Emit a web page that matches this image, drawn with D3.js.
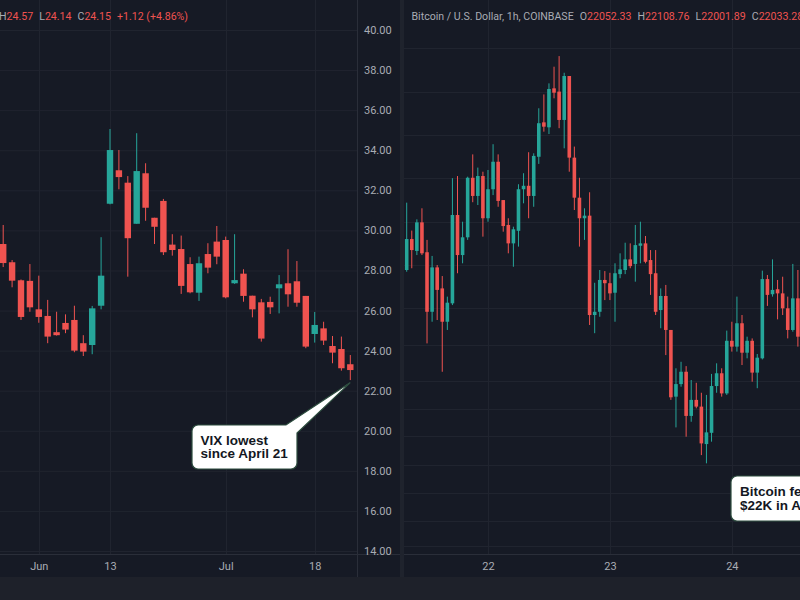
<!DOCTYPE html>
<html><head><meta charset="utf-8">
<script src="https://cdn.jsdelivr.net/npm/d3@7"></script>
<style>html,body{margin:0;padding:0;background:#161a25;overflow:hidden}text{font-family:Roboto,"Noto Sans",sans-serif}</style>
</head><body>
<svg id="c" width="800" height="600"></svg>
<script>
// ---------- VIX daily ----------
const vixDates = ["2022-05-25","2022-05-26","2022-05-27","2022-05-31","2022-06-01","2022-06-02","2022-06-03","2022-06-06","2022-06-07","2022-06-08",
"2022-06-09","2022-06-10","2022-06-13","2022-06-14","2022-06-15","2022-06-16","2022-06-17","2022-06-21","2022-06-22","2022-06-23",
"2022-06-24","2022-06-27","2022-06-28","2022-06-29","2022-06-30","2022-07-01","2022-07-05","2022-07-06","2022-07-07","2022-07-08",
"2022-07-11","2022-07-12","2022-07-13","2022-07-14","2022-07-15","2022-07-18","2022-07-19","2022-07-20","2022-07-21","2022-07-22"];
const vixOpen  = [29.32,28.41,27.51,27.48,26.06,25.73,24.92,25.38,25.53,24.37,24.28,26.24,31.33,33.00,32.38,30.33,32.85,30.63,31.47,29.29,29.07,28.32,26.89,28.82,29.44,29.52,27.36,27.84,26.74,26.41,26.43,27.11,27.36,27.46,26.73,24.83,25.11,24.23,24.08,23.32];
const vixHigh  = [30.27,28.52,27.55,28.32,27.74,26.53,25.94,25.81,26.24,24.77,26.23,29.66,35.06,34.01,32.71,34.85,33.35,30.63,31.57,29.81,29.74,28.66,28.69,29.36,30.22,29.69,29.81,28.06,26.74,26.58,26.69,27.77,29.06,28.47,26.73,25.93,25.44,24.73,24.70,23.78];
const vixLow   = [28.17,27.16,25.53,25.94,25.39,24.37,24.75,24.87,23.92,23.73,23.82,26.06,31.30,32.05,27.69,30.33,30.48,29.32,28.77,28.74,26.83,26.86,26.48,27.86,28.31,26.61,27.33,26.44,25.66,24.45,25.83,25.86,26.19,26.19,24.12,24.40,24.28,23.37,23.00,22.53];
const vixClose = [28.37,27.49,25.68,26.16,25.68,24.70,24.77,25.05,24.00,23.95,26.11,27.74,34.01,32.66,29.61,32.96,31.13,30.18,28.91,29.02,27.23,26.91,28.36,28.14,28.69,26.66,27.52,26.73,26.06,24.60,26.16,27.31,26.81,26.39,24.20,25.28,24.50,23.90,23.12,23.03];
const vixTicks = [14,16,18,20,22,24,26,28,30,32,34,36,38,40];
const vixTimeTicks = ["2022-06-01","2022-06-13","2022-07-01","2022-07-18"];
const vixTimeLabels = ["Jun","13","Jul","18"];
const vixHeader = [["H","24.57"],["L","24.14"],["C","24.15"]];
const vixChange = "+1.12 (+4.86%)";
const vixNote = ["VIX lowest","since April 21"];

// ---------- BTC hourly ----------
const btcStart = "2022-07-21T08:00:00", btcEnd = "2022-07-24T14:00:00";
const btcOpen  = [23376,23519,23464,23596,23458,23183,23388,23291,23137,23222,23630,23445,23527,23802,23718,23810,23615,23749,23876,23699,
23584,23499,23557,23749,23765,23718,23899,24058,24035,24215,24200,24069,24272,23895,23710,23615,23627,23168,23183,23330,
23315,23271,23357,23376,23425,23404,23488,23499,23422,23361,23191,23256,23099,22791,22849,22906,22702,22776,22745,22572,
22624,22840,22899,22806,23049,23022,23130,22994,23049,22902,22968,23334,23264,23287,23268,23199,23099,23245];
const btcHigh  = [23687,23558,23610,23661,23515,23441,23399,23348,23253,23800,23810,23599,23807,23910,23849,23830,23838,23957,23910,23699,
23615,23576,23772,23823,23920,23915,24123,24187,24238,24315,24364,24287,24272,23946,23802,23661,23735,23317,23376,23371,
23363,23407,23453,23502,23499,23584,23599,23533,23468,23468,23291,23307,23099,22922,22952,22932,22868,22855,22809,22799,
22896,22945,22922,23096,23137,23253,23168,23068,23060,22988,23373,23353,23425,23330,23345,23253,23404,23376];
const btcLow   = [23368,23384,23445,23445,23037,23137,23145,22906,23099,23214,23361,23407,23515,23689,23676,23530,23599,23722,23668,23553,
23453,23391,23484,23684,23615,23668,23866,24015,24004,24169,24031,23938,23830,23653,23484,23515,23122,23084,23160,23237,
23237,23137,23338,23357,23384,23322,23407,23407,23261,23168,23107,22983,22776,22649,22837,22606,22675,22737,22521,22483,
22583,22809,22791,22799,22999,22999,22937,22968,22860,22830,22963,23210,23253,23148,23168,23060,23091,23022];
const btcClose = [23519,23468,23596,23453,23183,23388,23284,23137,23225,23630,23445,23527,23802,23718,23810,23615,23749,23876,23695,23579,
23499,23564,23749,23765,23718,23903,24054,24038,24212,24195,24069,24272,23895,23710,23615,23627,23168,23183,23330,23315,
23268,23361,23379,23425,23394,23491,23499,23414,23357,23183,23256,23099,22788,22849,22906,22702,22776,22745,22575,22626,
22840,22899,22806,23049,23022,23130,22994,23049,22902,22971,23334,23261,23284,23268,23199,23099,23245,23068];
const btcGridLevels = [24400,24200,24000,23800,23600,23400,23200,23030,22865,22735,22610,22475,22345,22215,22100];
const btcTimeTicks = ["2022-07-22T00:00:00","2022-07-23T00:00:00","2022-07-24T00:00:00"];
const btcTimeLabels = ["22","23","24"];
const btcTitle = "Bitcoin / U.S. Dollar, 1h, COINBASE";
const btcHeader = [["O","22052.33"],["H","22108.76"],["L","22001.89"],["C","22033.28"]];
const btcNote = ["Bitcoin fell to","$22K in Asia"];

// ---------- styles ----------
const BG="#161a25", GRID="#20242f", UP="#26a69a", DN="#ef5350", AX="#a9acb4", BORDER="#2a2e39";
const svg = d3.select("#c");
svg.append("rect").attr("width",800).attr("height",600).attr("fill",BG);

const parse = d3.timeParse("%Y-%m-%dT%H:%M:%S");
const btcTimes = d3.timeHour.range(parse(btcStart), parse(btcEnd)).map(d=>+d);

// scales
const xV = d3.scalePoint().domain(vixDates).range([3.2, 350.3]);
const yV = d3.scaleLinear().domain([14,40]).range([551,30]);
const xB = d3.scalePoint().domain(btcTimes).range([406.7, 797.9]);
const yB = d3.scaleLinear().domain([22000,24400]).range([567.9,48.3]);

const defs = svg.append("defs");
defs.append("clipPath").attr("id","cl").append("rect").attr("x",0).attr("y",0).attr("width",357).attr("height",554);
defs.append("clipPath").attr("id","cr").append("rect").attr("x",404).attr("y",0).attr("width",396).attr("height",554);

// ---- left grid ----
const gl = svg.append("g").attr("clip-path","url(#cl)");
gl.selectAll(".h").data(vixTicks).join("line").attr("x1",0).attr("x2",357)
  .attr("y1",d=>yV(d)+0.5).attr("y2",d=>yV(d)+0.5).attr("stroke",GRID);
gl.selectAll(".v").data(vixTimeTicks).join("line").attr("y1",0).attr("y2",554)
  .attr("x1",d=>Math.round(xV(d))+0.5).attr("x2",d=>Math.round(xV(d))+0.5).attr("stroke",GRID);

// ---- right grid ----
const gr = svg.append("g").attr("clip-path","url(#cr)");
gr.selectAll(".h").data(btcGridLevels).join("line").attr("x1",404).attr("x2",800)
  .attr("y1",d=>Math.round(yB(d))+0.5).attr("y2",d=>Math.round(yB(d))+0.5).attr("stroke",GRID);
gr.selectAll(".v").data(btcTimeTicks.map(s=>+parse(s))).join("line").attr("y1",0).attr("y2",554)
  .attr("x1",d=>Math.round(xB(d))+0.5).attr("x2",d=>Math.round(xB(d))+0.5).attr("stroke",GRID);

// ---- candles ----
function candles(g, keys, O, H, L, C, x, y, w) {
  const data = keys.map((k,i)=>({k, o:O[i], h:H[i], l:L[i], c:C[i]}));
  const c = g.selectAll(".cd").data(data).join("g");
  c.append("line").attr("x1",d=>x(d.k)).attr("x2",d=>x(d.k))
    .attr("y1",d=>y(d.h)).attr("y2",d=>y(d.l))
    .attr("stroke",d=>d.c>=d.o?UP:DN).attr("stroke-width",1);
  c.append("rect").attr("x",d=>x(d.k)-w/2).attr("width",w)
    .attr("y",d=>y(Math.max(d.o,d.c))).attr("height",d=>Math.max(1,Math.abs(y(d.o)-y(d.c))))
    .attr("fill",d=>d.c>=d.o?UP:DN);
}
candles(gl, vixDates, vixOpen, vixHigh, vixLow, vixClose, xV, yV, 6.4);
candles(gr, btcTimes, btcOpen, btcHigh, btcLow, btcClose, xB, yB, 3.6);

// ---- frames ----
svg.append("rect").attr("x",0).attr("y",577).attr("width",800).attr("height",23).attr("fill","#1e212a");
svg.append("line").attr("x1",0).attr("x2",800).attr("y1",554.5).attr("y2",554.5).attr("stroke",BORDER);
svg.append("line").attr("x1",357.5).attr("x2",357.5).attr("y1",0).attr("y2",577).attr("stroke",BORDER);
svg.append("rect").attr("x",400).attr("y",0).attr("width",4).attr("height",577).attr("fill","#1f232d");

// ---- axes ----
const ay = svg.append("g").attr("transform","translate(357,0)")
  .call(d3.axisRight(yV).tickValues(vixTicks).tickFormat(d3.format(".2f")).tickSize(0).tickPadding(7));
ay.select(".domain").remove();
ay.selectAll("text").attr("fill",AX).style("font-size","11px").attr("font-family","Roboto");

const ax1 = svg.append("g").attr("transform","translate(0,554)")
  .call(d3.axisBottom(xV).tickValues(vixTimeTicks).tickFormat((d,i)=>vixTimeLabels[i]).tickSize(0).tickPadding(8));
const ax2 = svg.append("g").attr("transform","translate(0,554)")
  .call(d3.axisBottom(xB).tickValues(btcTimeTicks.map(s=>+parse(s))).tickFormat((d,i)=>btcTimeLabels[i]).tickSize(0).tickPadding(8));
[ax1,ax2].forEach(a=>{a.select(".domain").remove();a.selectAll("text").attr("fill",AX).style("font-size","11px").attr("font-family","Roboto");});

// ---- headers ----
const h1 = svg.append("text").attr("x",-1).attr("y",20).style("font-size","10.6px");
vixHeader.forEach(([k,v],i)=>{
  h1.append("tspan").attr("fill",AX).attr("dx",i?6:0).text(k);
  h1.append("tspan").attr("fill",DN).text(v);
});
h1.append("tspan").attr("fill",DN).attr("dx",6).text(vixChange);

const h2 = svg.append("text").attr("x",411.5).attr("y",20).style("font-size","10.6px");
h2.append("tspan").attr("fill",AX).text(btcTitle);
btcHeader.forEach(([k,v],i)=>{
  h2.append("tspan").attr("fill",AX).attr("dx",6).text(k);
  h2.append("tspan").attr("fill",DN).text(v);
});

// ---- annotations ----
const ANN_STROKE = "#2d4d3f";
const NOTE_FONT = '"Liberation Sans", Arial, sans-serif';
const tipX = xV(vixDates[vixDates.length-1]), tipY = yV(vixLow[vixLow.length-1]) + 2.5;
const bx0=192, by0=425, bx1=297, by1=469, r=6;
const p = d3.path();
p.moveTo(bx0+r,by0); p.lineTo(286,by0); p.lineTo(tipX,tipY); p.lineTo(bx1,433);
p.lineTo(bx1,by1-r); p.arcTo(bx1,by1,bx1-r,by1,r); p.lineTo(bx0+r,by1); p.arcTo(bx0,by1,bx0,by1-r,r);
p.lineTo(bx0,by0+r); p.arcTo(bx0,by0,bx0+r,by0,r); p.closePath();
svg.append("path").attr("d",p.toString()).attr("fill","#ffffff").attr("stroke",ANN_STROKE).attr("stroke-width",1.2);
svg.append("g").selectAll("text").data(vixNote).join("text")
  .attr("x",200.5).attr("y",(d,i)=>444.5+i*13.4).text(d=>d)
  .attr("fill","#131722").style("font-family",NOTE_FONT).style("font-size","13.5px").style("font-weight","700");

svg.append("rect").attr("x",731).attr("y",476).attr("width",90).attr("height",45).attr("rx",6)
  .attr("fill","#ffffff").attr("stroke",ANN_STROKE).attr("stroke-width",1.2);
svg.append("g").selectAll("text").data(btcNote).join("text")
  .attr("x",740).attr("y",(d,i)=>496+i*13.6).text(d=>d)
  .attr("fill","#131722").style("font-family",NOTE_FONT).style("font-size","13.5px").style("font-weight","700");
</script>
</body></html>
